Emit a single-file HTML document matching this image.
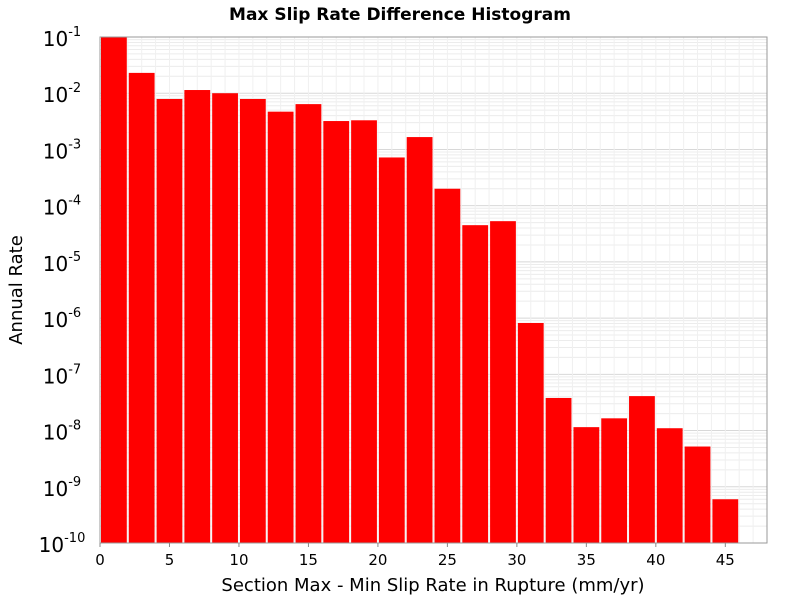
<!DOCTYPE html>
<html><head><meta charset="utf-8"><style>
body{margin:0;background:#fff;}
svg text{font-family:"DejaVu Sans","Liberation Sans",sans-serif;}
</style></head><body>
<svg id="chart" width="800" height="600">
<rect width="800" height="600" fill="#fff"/>
<text x="400" y="20" text-anchor="middle" font-size="17" font-weight="bold">Max Slip Rate Difference Histogram</text>
<g id="grid"></g><g id="bars"></g><g id="axes"></g>
<text x="433" y="591" text-anchor="middle" font-size="18">Section Max - Min Slip Rate in Rupture (mm/yr)</text>
<text transform="translate(22,290) rotate(-90)" text-anchor="middle" font-size="18">Annual Rate</text>
</svg>
<script>
const binCenters=[1,3,5,7,9,11,13,15,17,19,21,23,25,27,29,31,33,35,37,39,41,43,45];
const rates=[0.1,0.023,0.0079,0.0114,0.0100,0.0079,0.0047,0.0064,0.0032,0.0033,7.2e-4,1.66e-3,2.0e-4,4.5e-5,5.3e-5,8.2e-7,3.8e-8,1.15e-8,1.65e-8,4.1e-8,1.1e-8,5.2e-9,6.0e-10];
const xTicks=[0,5,10,15,20,25,30,35,40,45];
const yExps=[-10,-9,-8,-7,-6,-5,-4,-3,-2,-1];
const binWidth=2;
const L=100,R=767,T=37,B=543,xMin=0,xMax=48,yMin=-10,yMax=-1;
const NS="http://www.w3.org/2000/svg";
const sx=v=>L+(v-xMin)/(xMax-xMin)*(R-L);
const sy=v=>B-(Math.log10(v)-yMin)/(yMax-yMin)*(B-T);
function mk(t,a,p){const e=document.createElementNS(NS,t);for(const k in a)e.setAttribute(k,a[k]);p.appendChild(e);return e;}
const grid=document.getElementById('grid'),bars=document.getElementById('bars'),axes=document.getElementById('axes');
mk('rect',{x:L,y:T,width:R-L,height:B-T,fill:'#fff'},grid);
for(let e=yMin;e<yMax;e++){for(let m=1;m<10;m++){const y=sy(m*Math.pow(10,e));
const g=mk('line',{x1:L,x2:R,y1:y,y2:y,stroke:m===1?'#d8d8d8':'#ececec','stroke-width':1},grid);
}}
for(let x=xMin;x<=xMax;x++){const X=sx(x);const g=mk('line',{x1:X,x2:X,y1:T,y2:B,stroke:'#f0f0f0','stroke-width':1},grid);
}
binCenters.forEach((c,i)=>{const x0=sx(c-binWidth/2)+1,x1=sx(c+binWidth/2)-1;const y=Math.max(T,sy(rates[i]));
const r=mk('rect',{x:x0,y:y,width:x1-x0,height:B-y,fill:'#ff0000'},bars);
});
const fr=mk('rect',{x:L,y:T,width:R-L,height:B-T,fill:'none',stroke:'#999','stroke-width':1},axes);

xTicks.forEach(v=>{const X=sx(v);mk('line',{x1:X,x2:X,y1:B,y2:B+4,stroke:'#888'},axes);
const t=mk('text',{x:X,y:B+22,'text-anchor':'middle','font-size':15},axes);t.textContent=v;
});
yExps.forEach(e=>{const Y=sy(Math.pow(10,e));
const t=mk('text',{x:62,y:Y+9,'text-anchor':'middle','font-size':20},axes);

t.textContent='10';const s=mk('tspan',{dy:-10,'font-size':13},t);s.textContent=e;});
</script>
</body></html>
